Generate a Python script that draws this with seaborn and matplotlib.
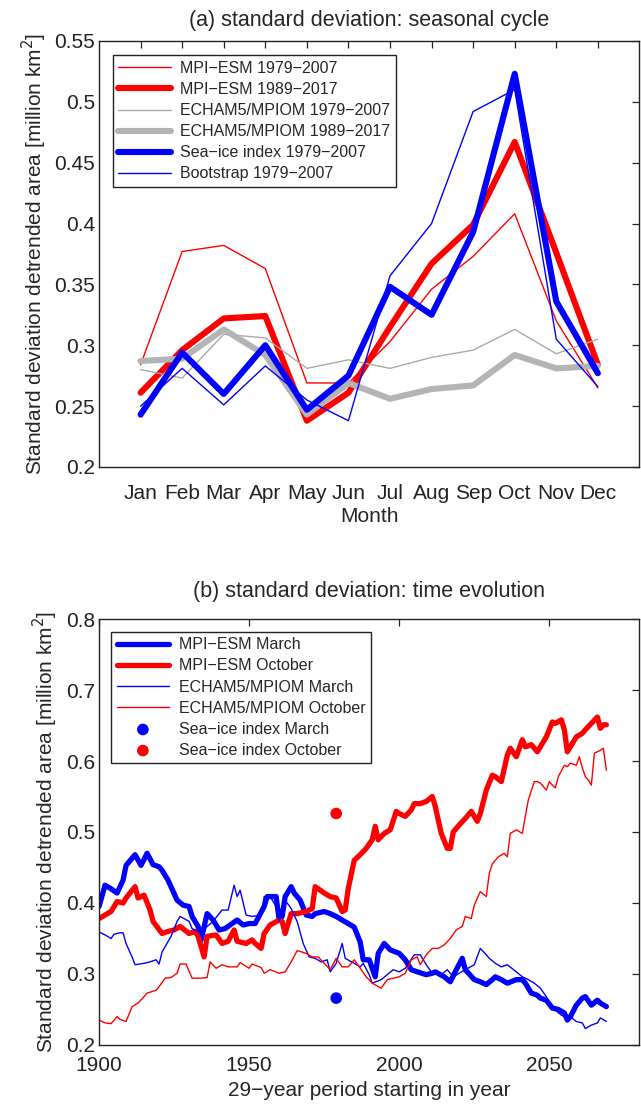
import numpy as np
import pandas as pd
import matplotlib
matplotlib.use("Agg")
import matplotlib.pyplot as plt
import seaborn as sns

sns.set_style("white")
plt.rcParams['font.family'] = ['Liberation Sans', 'DejaVu Sans']
plt.rcParams['axes.unicode_minus'] = True

# ---------------- panel (a): seasonal cycle ----------------
months = ["Jan", "Feb", "Mar", "Apr", "May", "Jun", "Jul", "Aug", "Sep", "Oct", "Nov", "Dec"]
mpi_7907 = [0.284, 0.377, 0.382, 0.363, 0.269, 0.269, 0.303, 0.346, 0.373, 0.408, 0.320, 0.265]
mpi_8917 = [0.261, 0.296, 0.322, 0.324, 0.238, 0.261, 0.315, 0.367, 0.399, 0.467, 0.376, 0.284]
echam_7907 = [0.280, 0.273, 0.309, 0.306, 0.281, 0.288, 0.281, 0.290, 0.296, 0.313, 0.293, 0.305]
echam_8917 = [0.287, 0.289, 0.313, 0.292, 0.243, 0.269, 0.256, 0.264, 0.267, 0.292, 0.281, 0.283]
seaice_7907 = [0.243, 0.294, 0.260, 0.300, 0.247, 0.275, 0.348, 0.325, 0.393, 0.523, 0.336, 0.277]
bootstrap_7907 = [0.250, 0.281, 0.251, 0.283, 0.255, 0.238, 0.357, 0.400, 0.492, 0.510, 0.305, 0.266]

# ---------------- panel (b): time evolution ----------------
mpi_mar_years = [1900, 1902, 1904, 1906, 1908, 1909, 1912, 1914, 1916, 1918, 1920, 1921, 1923, 1926,
                 1928, 1930, 1931, 1933, 1934, 1936, 1938, 1940, 1942, 1944, 1946, 1948, 1950, 1952,
                 1955, 1956, 1959, 1960, 1961, 1962, 1964, 1965, 1967, 1969, 1971, 1972, 1975, 1977,
                 1979, 1981, 1983, 1985, 1987, 1988, 1990, 1992, 1993, 1995, 1997, 2000, 2002, 2004,
                 2006, 2009, 2011, 2012, 2015, 2017, 2019, 2021, 2022, 2025, 2027, 2029, 2031, 2032,
                 2034, 2036, 2039, 2041, 2042, 2044, 2046, 2047, 2049, 2051, 2053, 2055, 2056, 2057,
                 2059, 2061, 2062, 2064, 2066, 2067, 2069]
mpi_mar = [0.395, 0.425, 0.420, 0.414, 0.432, 0.453, 0.468, 0.453, 0.470, 0.454, 0.451, 0.446, 0.432,
           0.404, 0.397, 0.395, 0.381, 0.367, 0.348, 0.385, 0.376, 0.362, 0.364, 0.370, 0.376, 0.369,
           0.371, 0.371, 0.395, 0.409, 0.409, 0.376, 0.381, 0.409, 0.423, 0.414, 0.404, 0.383, 0.381,
           0.385, 0.388, 0.385, 0.381, 0.376, 0.371, 0.366, 0.345, 0.320, 0.320, 0.296, 0.329, 0.343,
           0.334, 0.329, 0.320, 0.306, 0.303, 0.299, 0.301, 0.303, 0.296, 0.289, 0.306, 0.322, 0.306,
           0.292, 0.289, 0.285, 0.292, 0.296, 0.292, 0.287, 0.292, 0.292, 0.287, 0.273, 0.270, 0.266,
           0.263, 0.252, 0.250, 0.245, 0.235, 0.240, 0.256, 0.266, 0.268, 0.256, 0.263, 0.259, 0.254]

mpi_oct_years = [1900, 1902, 1904, 1906, 1908, 1909, 1912, 1913, 1915, 1917, 1918, 1921, 1923, 1925,
                 1927, 1930, 1932, 1933, 1935, 1936, 1939, 1941, 1943, 1945, 1946, 1949, 1951, 1952,
                 1954, 1955, 1957, 1960, 1961, 1962, 1964, 1966, 1969, 1971, 1972, 1975, 1977, 1979,
                 1981, 1982, 1983, 1985, 1987, 1989, 1991, 1992, 1993, 1995, 1997, 1999, 2000, 2002,
                 2004, 2005, 2007, 2009, 2011, 2012, 2014, 2016, 2017, 2018, 2020, 2022, 2024, 2026,
                 2027, 2029, 2031, 2032, 2034, 2036, 2037, 2039, 2041, 2042, 2044, 2046, 2047, 2049,
                 2051, 2052, 2054, 2055, 2056, 2057, 2059, 2061, 2062, 2064, 2066, 2067, 2068, 2069]
mpi_oct = [0.378, 0.383, 0.388, 0.402, 0.400, 0.407, 0.423, 0.407, 0.411, 0.390, 0.374, 0.357, 0.360,
           0.362, 0.367, 0.357, 0.360, 0.353, 0.324, 0.353, 0.355, 0.343, 0.346, 0.362, 0.346, 0.343,
           0.348, 0.343, 0.336, 0.357, 0.369, 0.376, 0.374, 0.357, 0.385, 0.385, 0.388, 0.392, 0.423,
           0.414, 0.409, 0.407, 0.388, 0.390, 0.420, 0.460, 0.468, 0.477, 0.489, 0.508, 0.489, 0.498,
           0.503, 0.529, 0.526, 0.522, 0.531, 0.540, 0.540, 0.543, 0.550, 0.536, 0.498, 0.477, 0.477,
           0.500, 0.510, 0.519, 0.529, 0.515, 0.526, 0.559, 0.580, 0.578, 0.571, 0.608, 0.618, 0.606,
           0.630, 0.620, 0.623, 0.613, 0.620, 0.634, 0.655, 0.653, 0.658, 0.644, 0.613, 0.620, 0.634,
           0.639, 0.644, 0.653, 0.662, 0.646, 0.651, 0.651]

echam_mar_years = [1900, 1902, 1904, 1905, 1907, 1908, 1909, 1911, 1912, 1915, 1917, 1919, 1920, 1921,
                   1924, 1926, 1927, 1930, 1931, 1934, 1936, 1938, 1940, 1941, 1943, 1945, 1946, 1947,
                   1949, 1951, 1954, 1955, 1957, 1959, 1960, 1962, 1964, 1966, 1968, 1970, 1972, 1974,
                   1976, 1977, 1979, 1981, 1982, 1985, 1987, 1988, 1990, 1991, 1994, 1996, 1998, 2000,
                   2002, 2005, 2007, 2009, 2011, 2014, 2016, 2018, 2020, 2022, 2025, 2027, 2029, 2030,
                   2032, 2034, 2036, 2039, 2041, 2043, 2045, 2047, 2049, 2050, 2052, 2054, 2056, 2057,
                   2059, 2061, 2062, 2064, 2066, 2067, 2069]
echam_mar = [0.359, 0.355, 0.350, 0.356, 0.358, 0.358, 0.343, 0.324, 0.313, 0.315, 0.317, 0.320, 0.314,
             0.331, 0.353, 0.374, 0.381, 0.374, 0.364, 0.357, 0.367, 0.374, 0.385, 0.390, 0.390, 0.425,
             0.409, 0.418, 0.383, 0.381, 0.383, 0.409, 0.409, 0.395, 0.374, 0.404, 0.392, 0.374, 0.343,
             0.324, 0.322, 0.317, 0.320, 0.303, 0.315, 0.343, 0.322, 0.315, 0.310, 0.315, 0.299, 0.287,
             0.292, 0.299, 0.306, 0.303, 0.308, 0.327, 0.327, 0.313, 0.301, 0.299, 0.306, 0.296, 0.301,
             0.306, 0.313, 0.336, 0.327, 0.322, 0.315, 0.310, 0.313, 0.303, 0.296, 0.292, 0.287, 0.280,
             0.268, 0.259, 0.249, 0.242, 0.238, 0.240, 0.233, 0.231, 0.223, 0.228, 0.231, 0.238, 0.233]

echam_oct_years = [1900, 1902, 1904, 1906, 1907, 1909, 1911, 1913, 1915, 1916, 1919, 1920, 1922, 1924,
                   1926, 1927, 1929, 1931, 1934, 1936, 1937, 1939, 1941, 1943, 1946, 1947, 1950, 1951,
                   1954, 1955, 1957, 1960, 1962, 1964, 1966, 1969, 1971, 1973, 1975, 1977, 1979, 1981,
                   1983, 1985, 1987, 1989, 1991, 1994, 1996, 1998, 2000, 2002, 2004, 2006, 2007, 2009,
                   2011, 2013, 2015, 2017, 2019, 2021, 2022, 2024, 2025, 2027, 2029, 2030, 2031, 2033,
                   2035, 2036, 2037, 2039, 2041, 2042, 2043, 2045, 2046, 2047, 2049, 2050, 2051, 2052,
                   2053, 2055, 2056, 2057, 2059, 2060, 2061, 2062, 2063, 2064, 2065, 2067, 2068, 2069]
echam_oct = [0.235, 0.231, 0.230, 0.240, 0.236, 0.233, 0.254, 0.259, 0.268, 0.273, 0.277, 0.282, 0.294,
             0.295, 0.301, 0.314, 0.314, 0.294, 0.294, 0.295, 0.317, 0.308, 0.313, 0.310, 0.310, 0.316,
             0.308, 0.314, 0.309, 0.301, 0.306, 0.301, 0.303, 0.317, 0.333, 0.329, 0.324, 0.324, 0.315,
             0.306, 0.322, 0.310, 0.310, 0.320, 0.308, 0.296, 0.287, 0.280, 0.292, 0.294, 0.296, 0.301,
             0.320, 0.324, 0.313, 0.327, 0.336, 0.336, 0.341, 0.350, 0.362, 0.367, 0.381, 0.378, 0.397,
             0.416, 0.409, 0.442, 0.455, 0.465, 0.470, 0.465, 0.498, 0.503, 0.498, 0.522, 0.545, 0.571,
             0.571, 0.569, 0.559, 0.571, 0.566, 0.562, 0.578, 0.594, 0.592, 0.597, 0.594, 0.606, 0.590,
             0.578, 0.573, 0.566, 0.611, 0.615, 0.618, 0.587]

seaice_years = [1979]
seaice_mar = [0.266]
seaice_oct = [0.526]

RED = "#ff0000"
BLUE = "#0000ff"
GREY_THIN = "#a9a9a9"
GREY_THICK = "#b4b4b4"
THICK = 3.8
THIN = 1.0
FS = 15

fig = plt.figure(figsize=(6.41, 11.06), dpi=100)
axA = fig.add_axes([0.1545, 0.5778, 0.843, 0.3852])
axB = fig.add_axes([0.1545, 0.0552, 0.843, 0.3851])

mx = np.arange(1, 13)
specsA = [
    (mpi_7907, RED, THIN, "MPI\u2212ESM 1979\u22122007"),
    (mpi_8917, RED, THICK + 0.6, "MPI\u2212ESM 1989\u22122017"),
    (echam_7907, GREY_THIN, THIN, "ECHAM5/MPIOM 1979\u22122007"),
    (echam_8917, GREY_THICK, THICK + 0.6, "ECHAM5/MPIOM 1989\u22122017"),
    (seaice_7907, BLUE, THICK + 0.6, "Sea\u2212ice index 1979\u22122007"),
    (bootstrap_7907, BLUE, THIN, "Bootstrap 1979\u22122007"),
]
for vals, col, lw, lab in specsA:
    sns.lineplot(x=mx, y=vals, ax=axA, color=col, linewidth=lw, label=lab)

axA.set_xlim(0, 13)
axA.set_ylim(0.2, 0.55)
axA.set_xticks(mx)
axA.set_xticklabels(months)
yt = [0.2, 0.25, 0.3, 0.35, 0.4, 0.45, 0.5, 0.55]
axA.set_yticks(yt)
axA.set_yticklabels(["0.2", "0.25", "0.3", "0.35", "0.4", "0.45", "0.5", "0.55"])
axA.set_xlabel("Month", fontsize=FS, labelpad=3)
axA.set_ylabel("Standard deviation detrended area [million km$^2$]", fontsize=FS, labelpad=4)
axA.set_title("(a) standard deviation: seasonal cycle", fontsize=15.5, pad=10.5)

specsB = [
    (mpi_mar_years, mpi_mar, BLUE, THICK, "MPI\u2212ESM March"),
    (mpi_oct_years, mpi_oct, RED, THICK, "MPI\u2212ESM October"),
    (echam_mar_years, echam_mar, BLUE, THIN, "ECHAM5/MPIOM March"),
    (echam_oct_years, echam_oct, RED, THIN, "ECHAM5/MPIOM October"),
]
for xs, vals, col, lw, lab in specsB:
    sns.lineplot(x=xs, y=vals, ax=axB, color=col, linewidth=lw, label=lab)
sns.scatterplot(x=seaice_years, y=seaice_mar, ax=axB, color=BLUE, s=70, edgecolor="none",
                label="Sea\u2212ice index March", zorder=5)
sns.scatterplot(x=seaice_years, y=seaice_oct, ax=axB, color=RED, s=70, edgecolor="none",
                label="Sea\u2212ice index October", zorder=5)

axB.set_xlim(1900, 2080)
axB.set_ylim(0.2, 0.8)
axB.set_xticks([1900, 1950, 2000, 2050])
axB.set_yticks([0.2, 0.3, 0.4, 0.5, 0.6, 0.7, 0.8])
axB.set_yticklabels(["0.2", "0.3", "0.4", "0.5", "0.6", "0.7", "0.8"])
axB.set_xlabel("29\u2212year period starting in year", fontsize=FS, labelpad=4)
axB.set_ylabel("Standard deviation detrended area [million km$^2$]", fontsize=FS, labelpad=4)
axB.set_title("(b) standard deviation: time evolution", fontsize=15.5, pad=16)

for ax in (axA, axB):
    for sp in ax.spines.values():
        sp.set_visible(True)
        sp.set_color("#222222")
        sp.set_linewidth(1.0)
    ax.tick_params(direction="in", length=5, width=0.9, top=True, right=True,
                   labelsize=FS, colors="#222222", pad=3)
    ax.grid(False)
axA.tick_params(axis="x", pad=12)
axB.tick_params(axis="x", pad=8)

legA = axA.legend(loc="upper left", bbox_to_anchor=(0.025, 0.966), fontsize=11.5,
                  frameon=True, fancybox=False, edgecolor="#222222", framealpha=1,
                  handlelength=3.3, handletextpad=0.6, labelspacing=0.38, borderpad=0.35,
                  borderaxespad=0.0)
legA.get_frame().set_linewidth(1.0)
legB = axB.legend(loc="upper left", bbox_to_anchor=(0.022, 0.97), fontsize=11.5,
                  frameon=True, fancybox=False, edgecolor="#222222", framealpha=1,
                  handlelength=3.3, handletextpad=0.6, labelspacing=0.38, borderpad=0.35,
                  borderaxespad=0.0, scatterpoints=1)
legB.get_frame().set_linewidth(1.0)

fig.savefig("out.png", dpi=100)
